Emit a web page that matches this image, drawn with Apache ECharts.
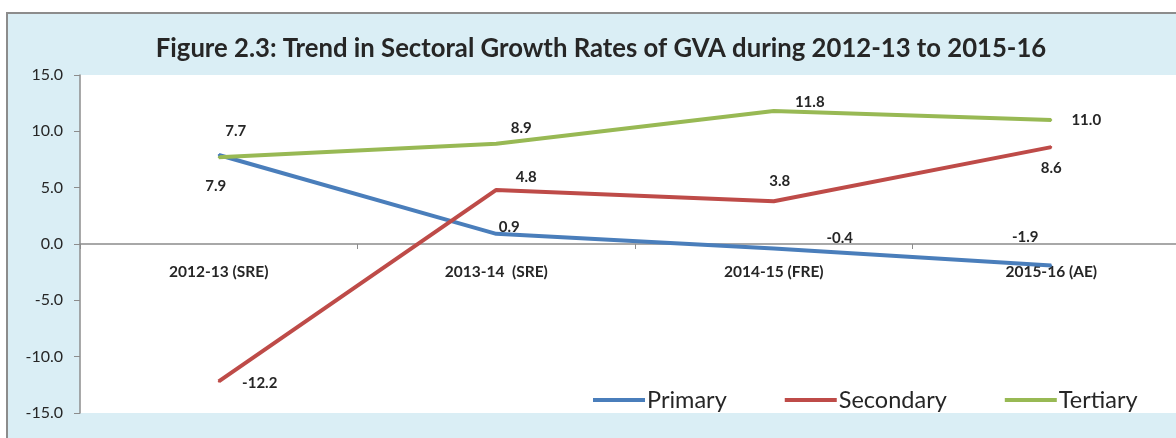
<!DOCTYPE html>
<html>
<head>
<meta charset="utf-8">
<script src="https://cdn.jsdelivr.net/npm/echarts@6/dist/echarts.min.js"></script>
<style>
  * { margin: 0; padding: 0; }
  body { background: #fff; }
  #chart { width: 1176px; height: 438px; }
</style>
</head>
<body>
<div id="chart"></div>
<script>
// categories and series values
const years = ["2012-13 (SRE)", "2013-14  (SRE)", "2014-15 (FRE)", "2015-16 (AE)"];
const primary = [7.9, 0.9, -0.4, -1.9];
const secondary = [-12.2, 4.8, 3.8, 8.6];
const tertiary = [7.7, 8.9, 11.8, 11.0];
const yTicks = [-15, -10, -5, 0, 5, 10, 15];

// where Excel put each data label, relative to its point (px)
const primaryOffsets = [[-3, 31], [13, -7], [66, -10], [-26, -28]];
const secondaryOffsets = [[41, 2], [30, -13], [6, -20], [0, 21]];
const tertiaryOffsets = [[17, -26], [25, -16], [36, -9], [35, 0]];

const font = "Lato, 'Open Sans', sans-serif";

function withLabels(values, offsets) {
  return values.map((v, i) => ({
    value: v,
    label: { offset: offsets[i] },
  }));
}

function lineSeries(name, color, values, offsets) {
  return {
    name: name,
    type: "line",
    data: withLabels(values, offsets),
    symbol: "circle",
    symbolSize: 2,
    showSymbol: true,
    lineStyle: { color: color, width: 4 },
    itemStyle: { color: color },
    label: {
      show: true,
      position: "inside",
      color: "#262626",
      fontFamily: font,
      fontWeight: "bold",
      fontSize: 15,
      formatter: (p) => p.value.toFixed(1),
    },
  };
}

const chart = echarts.init(document.getElementById("chart"));
chart.setOption({
  animation: false,
  textStyle: { fontFamily: font },
  graphic: [
    {
      // light blue chart area with grey frame
      type: "rect",
      z: -10,
      shape: { x: 7, y: 13, width: 1200, height: 450 },
      style: { fill: "#daeef5", stroke: "#8c8c8c", lineWidth: 2 },
    },
  ],
  title: {
    text: "Figure 2.3: Trend in Sectoral Growth Rates of GVA during 2012-13 to 2015-16",
    left: 596,
    textAlign: "center",
    top: 31,
    textStyle: { fontFamily: font, fontWeight: "bold", fontSize: 25.7, color: "#262626" },
  },
  legend: {
    data: ["Primary", "Secondary", "Tertiary"],
    left: 588,
    top: 383,
    itemWidth: 52,
    itemHeight: 4,
    itemGap: 58,
    icon: "rect",
    textStyle: { fontFamily: font, fontSize: 23.5, color: "#262626", padding: [0, 0, 0, -3] },
  },
  grid: {
    show: true,
    left: 80,
    top: 75,
    width: 1110,
    height: 338,
    outerBoundsMode: "none",
    backgroundColor: "#fff",
    borderWidth: 0,
  },
  xAxis: {
    type: "category",
    data: years,
    // move the whole axis (line, ticks, labels) up to the zero line
    offset: -169,
    axisLine: { onZero: false, lineStyle: { color: "#8c8c8c", width: 1.5 } },
    axisTick: { show: true, length: 5, lineStyle: { color: "#8c8c8c" } },
    axisLabel: {
      margin: 20,
      color: "#262626",
      fontFamily: font,
      fontWeight: "bold",
      fontSize: 15.5,
    },
    splitLine: { show: false },
  },
  yAxis: {
    type: "value",
    min: yTicks[0],
    max: yTicks[yTicks.length - 1],
    interval: 5,
    axisLine: { show: true, lineStyle: { color: "#8c8c8c", width: 1.5 } },
    axisTick: { show: true, length: 6, lineStyle: { color: "#8c8c8c" } },
    axisLabel: {
      margin: 17,
      color: "#262626",
      fontFamily: font,
      fontSize: 16,
      formatter: (v) => v.toFixed(1),
    },
    splitLine: { show: false },
  },
  series: [
    lineSeries("Primary", "#4a7ebb", primary, primaryOffsets),
    lineSeries("Secondary", "#be4b48", secondary, secondaryOffsets),
    lineSeries("Tertiary", "#98b954", tertiary, tertiaryOffsets),
  ],
});
</script>
</body>
</html>
